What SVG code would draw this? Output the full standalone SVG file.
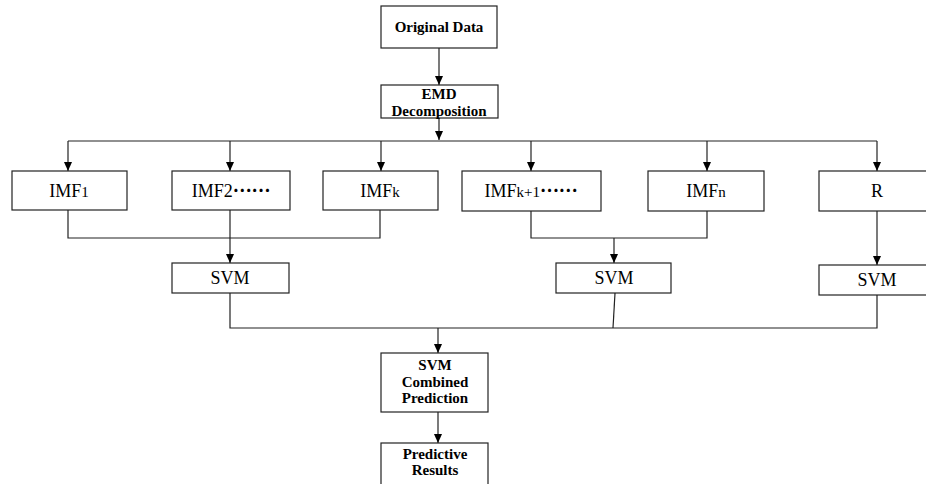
<svg xmlns="http://www.w3.org/2000/svg" width="926" height="484" viewBox="0 0 926 484">
<defs>
<marker id="arr" markerWidth="10" markerHeight="10" refX="9" refY="5" orient="auto" markerUnits="userSpaceOnUse">
<path d="M0,1 L9,5 L0,9 Z" fill="#000"/>
</marker>
<style>
rect.box{fill:#fff;stroke:#222;stroke-width:1.2}
.b{font-family:"Liberation Serif","Times New Roman",serif;font-weight:bold;font-size:15px;fill:#000;text-anchor:middle}
.r{font-family:"Liberation Serif","Times New Roman",serif;font-size:18px;fill:#000;text-anchor:middle}
.s{font-size:15px}
.d{font-family:"Noto Sans CJK SC",sans-serif;font-size:17px;font-weight:bold}
.c{fill:none;stroke:#222;stroke-width:1.2}
.a{fill:none;stroke:#222;stroke-width:1.2;marker-end:url(#arr)}
</style>
</defs>
<rect width="926" height="484" fill="#fff"/>
<g id="connectors">
<path class="a" d="M439,48 V85"/>
<path class="a" d="M439,118 V140"/>
<path class="c" d="M68,141 H877"/>
<path class="a" d="M68,141 V171"/>
<path class="a" d="M230,141 V171"/>
<path class="a" d="M381,141 V171"/>
<path class="a" d="M531,141 V171"/>
<path class="a" d="M707,141 V171"/>
<path class="a" d="M877,141 V171"/>
<path class="c" d="M68,210 V238 H380 V210"/>
<path class="a" d="M230,210 V263"/>
<path class="c" d="M531,211 V238 H707 V211"/>
<path class="a" d="M614,238 V263"/>
<path class="a" d="M877,211 V265"/>
<path class="c" d="M230,293 V328 H877 V295"/>
<path class="c" d="M615,293 L613,328"/>
<path class="a" d="M438,328 V353"/>
<path class="a" d="M438,412 V443"/>
</g>
<g id="original-data">
<rect class="box" x="381" y="6" width="116" height="42"/>
<text class="b" x="439" y="32">Original Data</text>
</g>
<g id="emd">
<rect class="box" x="381" y="85" width="117" height="33"/>
<text class="b" x="439" y="99">EMD</text>
<text class="b" x="439" y="116">Decomposition</text>
</g>
<g id="imf1">
<rect class="box" x="12" y="171" width="115" height="39"/>
<text class="r" x="69" y="197">IMF<tspan class="s">1</tspan></text>
</g>
<g id="imf2">
<rect class="box" x="172" y="171" width="118" height="39"/>
<text class="r" x="231" y="197">IMF2<tspan class="d" dy="-5">……</tspan></text>
</g>
<g id="imfk">
<rect class="box" x="323" y="171" width="115" height="39"/>
<text class="r" x="380" y="197">IMF<tspan class="s">k</tspan></text>
</g>
<g id="imfk1">
<rect class="box" x="462" y="171" width="139" height="40"/>
<text class="r" x="531" y="197">IMF<tspan class="s">k+1</tspan><tspan class="d" dy="-5">……</tspan></text>
</g>
<g id="imfn">
<rect class="box" x="648" y="171" width="116" height="40"/>
<text class="r" x="706" y="197">IMF<tspan class="s">n</tspan></text>
</g>
<g id="r">
<rect class="box" x="819" y="171" width="120" height="40"/>
<text class="r" x="877" y="197">R</text>
</g>
<g id="svm1">
<rect class="box" x="172" y="263" width="117" height="30"/>
<text class="r" x="230" y="284">SVM</text>
</g>
<g id="svm2">
<rect class="box" x="556" y="263" width="115" height="30"/>
<text class="r" x="614" y="284">SVM</text>
</g>
<g id="svm3">
<rect class="box" x="819" y="265" width="120" height="30"/>
<text class="r" x="877" y="286">SVM</text>
</g>
<g id="combined">
<rect class="box" x="381" y="353" width="107" height="59"/>
<text class="b" x="435" y="370">SVM</text>
<text class="b" x="435" y="387">Combined</text>
<text class="b" x="435" y="403">Prediction</text>
</g>
<g id="results">
<rect class="box" x="381" y="443" width="107" height="50"/>
<text class="b" x="435" y="459">Predictive</text>
<text class="b" x="435" y="475">Results</text>
</g>
</svg>
